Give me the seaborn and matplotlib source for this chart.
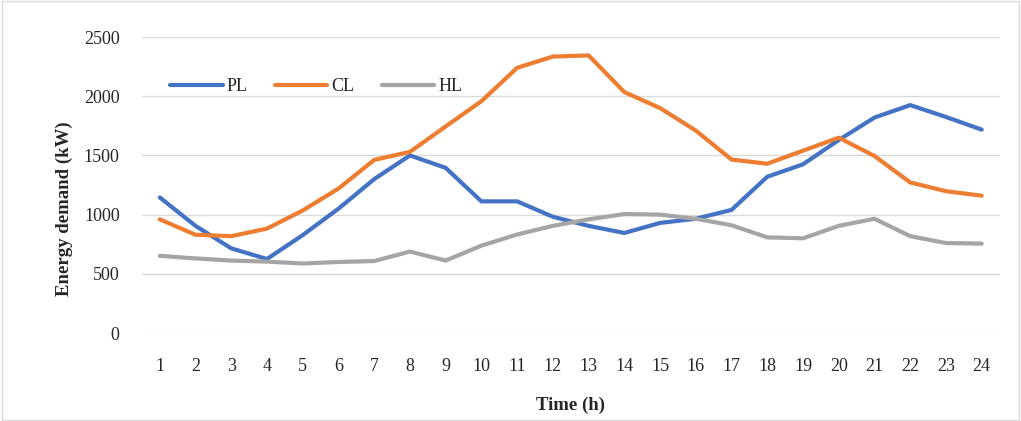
import matplotlib
matplotlib.use("Agg")
import matplotlib.pyplot as plt
import seaborn as sns
import pandas as pd
from matplotlib.patches import Rectangle

hours = list(range(1, 25))
pl = [1145, 905, 715, 625, 827, 1050, 1300, 1500, 1395, 1112, 1112, 982, 905, 845, 930, 965, 1040, 1320, 1425, 1630, 1820, 1925, 1825, 1718]
cl = [960, 830, 818, 882, 1035, 1220, 1462, 1530, 1745, 1958, 2240, 2335, 2345, 2035, 1900, 1710, 1465, 1430, 1540, 1650, 1495, 1272, 1198, 1160]
hl = [652, 630, 612, 603, 587, 600, 608, 688, 612, 738, 832, 905, 960, 1005, 1000, 965, 910, 808, 800, 905, 965, 818, 760, 755]
series_names = ["PL", "CL", "HL"]
colors = ["#4472C4", "#ED7D31", "#A5A5A5"]
yticks = [0, 500, 1000, 1500, 2000, 2500]

df = pd.DataFrame({"Time": hours * 3,
                   "Load": pl + cl + hl,
                   "Series": sum([[n] * 24 for n in series_names], [])})

sns.set_theme(style="white")
plt.rcParams["font.family"] = ["Liberation Serif", "DejaVu Serif"]

fig = plt.figure(figsize=(10.21, 4.21), dpi=100)
ax = fig.add_axes([0.139, 0.209, 0.840, 0.703])

sns.lineplot(data=df, x="Time", y="Load", hue="Series", palette=colors,
             linewidth=3, ax=ax, legend=True, solid_capstyle="round")

ax.set_xlim(0.5, 24.5)
ax.set_ylim(0, 2500)
ax.set_xticks(hours)
ax.set_xticklabels([str(h) for h in hours], fontsize=13)
ax.set_yticks(yticks)
ax.set_yticklabels([str(v) for v in yticks], fontsize=13)
ax.tick_params(axis="x", length=0, pad=18)
ax.tick_params(axis="y", length=0, pad=16)
ax.grid(axis="y", color="#D9D9D9", linewidth=1)
ax.grid(axis="x", visible=False)
for s in ax.spines.values():
    s.set_visible(False)
ax.set_xlabel("Time (h)", fontsize=13.5, fontweight="bold")
ax.set_ylabel("Energy demand (kW)", fontsize=13.5, fontweight="bold")
ax.xaxis.set_label_coords(0.5, -0.215)
ax.yaxis.set_label_coords(-0.08, 0.42)

handles, labels = ax.get_legend_handles_labels()
leg = ax.legend(handles, labels, loc="upper left", bbox_to_anchor=(0.014, 0.915),
                ncol=3, frameon=False, fontsize=13, handlelength=2.9,
                columnspacing=1.55, handletextpad=0.2)
for h in leg.legend_handles:
    h.set_linewidth(3)
    h.set_solid_capstyle("round")

fig.patches.append(Rectangle((0.002, 0.002), 0.996, 0.996, transform=fig.transFigure,
                             fill=False, edgecolor="#D9D9D9", linewidth=1))

fig.savefig("out.png", dpi=100)
